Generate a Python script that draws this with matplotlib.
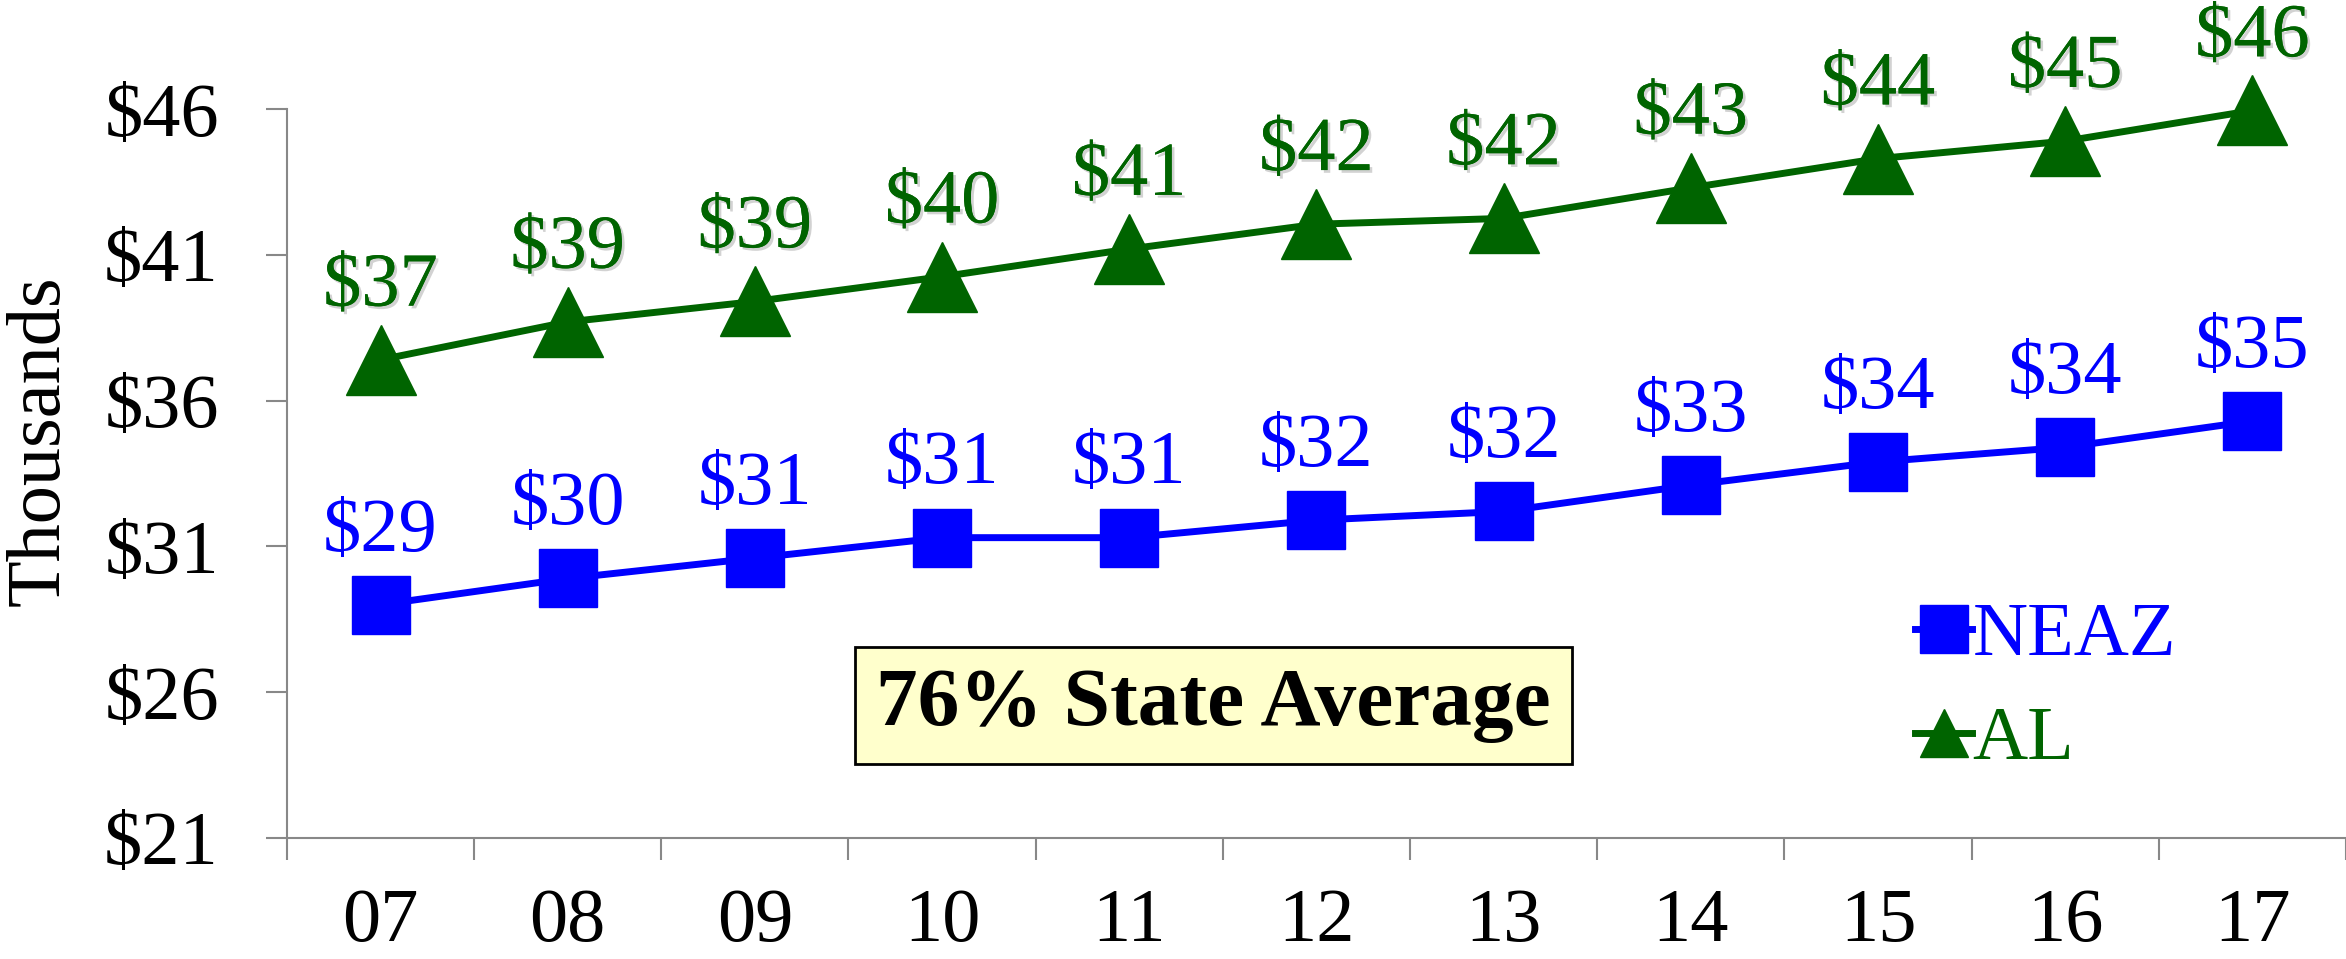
import matplotlib.pyplot as plt
import matplotlib.patheffects as pe

plt.rcParams['font.family'] = ['Liberation Serif', 'DejaVu Serif']

# data (thousands of dollars)
years = ['07', '08', '09', '10', '11', '12', '13', '14', '15', '16', '17']
neaz = [29.0, 29.9, 30.6, 31.3, 31.3, 31.9, 32.2, 33.1, 33.9, 34.4, 35.3]
al = [37.4, 38.7, 39.4, 40.25, 41.2, 42.05, 42.25, 43.3, 44.3, 44.9, 45.95]
neaz_labels = ['$29', '$30', '$31', '$31', '$31', '$32', '$32', '$33', '$34', '$34', '$35']
al_labels = ['$37', '$39', '$39', '$40', '$41', '$42', '$42', '$43', '$44', '$45', '$46']
yticks = [21, 26, 31, 36, 41, 46]

blue = '#0000FF'
green = '#006400'
fs = 55

fig = plt.figure(figsize=(23.46, 9.59), dpi=100)
ax = fig.add_axes([0.1223, 0.1262, 0.8777, 0.7601])

x = list(range(len(years)))
ax.plot(x, neaz, color=blue, lw=5, marker='s', ms=42, label='NEAZ', clip_on=False, zorder=3)
ax.plot(x, al, color=green, lw=5, marker='^', ms=51, label='AL', clip_on=False, zorder=3)

shadow = [pe.withSimplePatchShadow(offset=(2, -2), alpha=0.35, shadow_rgbFace='gray'), pe.Normal()]
for xi, v, t in zip(x, neaz, neaz_labels):
    ax.annotate(t, (xi, v), xytext=(0, 39), textcoords='offset points',
                ha='center', va='baseline', fontsize=fs, color=blue, annotation_clip=False)
for xi, v, t in zip(x, al, al_labels):
    ax.annotate(t, (xi, v), xytext=(0, 39), textcoords='offset points',
                ha='center', va='baseline', fontsize=fs, color=green, annotation_clip=False,
                path_effects=shadow)

ax.set_xlim(-0.5, len(years) - 0.5)
ax.set_ylim(21, 46)
ax.set_yticks(yticks)
ax.set_yticklabels(['$' + str(v) for v in yticks])
ax.set_xticks(x)
ax.set_xticklabels(years)
ax.set_xticks([i - 0.5 for i in range(len(years) + 1)], minor=True)
ax.tick_params(axis='x', which='major', length=0, pad=36, labelsize=fs)
ax.tick_params(axis='x', which='minor', length=16, width=1.5, color='#888888', direction='out')
ax.tick_params(axis='y', length=15, width=1.5, color='#888888', labelsize=fs, pad=34)

for s in ['top', 'right']:
    ax.spines[s].set_visible(False)
for s in ['left', 'bottom']:
    ax.spines[s].set_color('#888888')
    ax.spines[s].set_linewidth(1.5)

ax.set_ylabel('Thousands', fontsize=fs)
ax.yaxis.set_label_coords(-0.103, 0.545)

ax.text(4.45, 25.55, '76% State Average', fontsize=60, fontweight='bold', ha='center', va='center',
        bbox=dict(boxstyle='square,pad=0.25', facecolor='#FFFFCC', edgecolor='black', linewidth=2))

leg = ax.legend(loc='upper left', bbox_to_anchor=(0.787, 0.444), bbox_transform=fig.transFigure,
                frameon=False, fontsize=fs, handlelength=0.75, handletextpad=0.0, labelspacing=0.45,
                labelcolor='linecolor')
for h in leg.legend_handles:
    h.set_markersize(34)

fig.savefig('out.png', dpi=100)
